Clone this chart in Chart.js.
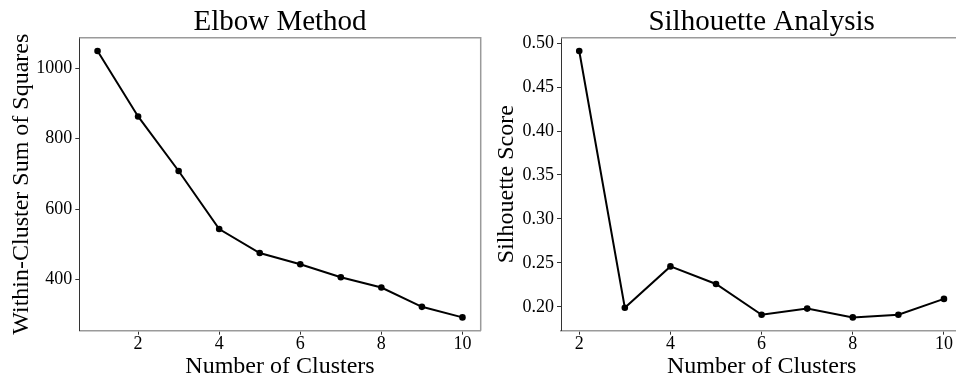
<!DOCTYPE html>
<html><head><meta charset="utf-8">
<script src="https://cdn.jsdelivr.net/npm/chart.js@4"></script>
<style>
html,body{margin:0;padding:0;background:#fff;overflow:hidden;width:956px;height:381px;}
canvas{position:absolute;top:0;}
#c1{left:0}
#c2{left:490px}
</style></head><body>
<canvas id="c1" width="490" height="381"></canvas>
<canvas id="c2" width="490" height="381"></canvas>
<script>
const elbowClusters = [1, 2, 3, 4, 5, 6, 7, 8, 9, 10];
const elbowWCSS = [1049, 863, 708, 543, 475, 443, 406, 377, 322, 292];
const silClusters = [2, 3, 4, 5, 6, 7, 8, 9, 10];
const silScores = [0.491, 0.199, 0.246, 0.226, 0.191, 0.198, 0.188, 0.191, 0.209];
const elbowXTicks = [2, 4, 6, 8, 10];
const elbowYTicks = [400, 600, 800, 1000];
const silXTicks = [2, 4, 6, 8, 10];
const silYTicks = [0.20, 0.25, 0.30, 0.35, 0.40, 0.45, 0.50];

const FONT = "'Liberation Serif', 'DejaVu Serif', serif";

function padRange(arr) {
  const mn = Math.min(...arr), mx = Math.max(...arr);
  const m = (mx - mn) * 0.05;
  return [mn - m, mx + m];
}

// top and right spines
const framePlugin = {
  id: 'frame',
  afterDraw(chart) {
    const a = chart.chartArea, ctx = chart.ctx;
    ctx.save();
    ctx.strokeStyle = '#9a9a9a';
    ctx.lineWidth = 1.5;
    ctx.beginPath();
    ctx.moveTo(a.left, a.top);
    ctx.lineTo(a.right, a.top);
    ctx.lineTo(a.right, a.bottom);
    ctx.stroke();
    ctx.restore();
  }
};

function makeChart(id, xs, ys, xTicks, yTicks, title, xTitle, yTitle, cfg) {
  const xr = padRange(xs), yr = padRange(ys);
  return new Chart(document.getElementById(id), {
    type: 'line',
    data: {
      datasets: [{
        data: xs.map((x, i) => ({x: x, y: ys[i]})),
        borderColor: '#000',
        backgroundColor: '#000',
        borderWidth: 2,
        pointRadius: 3.3,
        pointBorderWidth: 0,
        pointBackgroundColor: '#000',
        tension: 0,
        clip: false
      }]
    },
    plugins: [framePlugin],
    options: {
      responsive: false,
      maintainAspectRatio: false,
      animation: false,
      devicePixelRatio: 1,
      layout: {padding: {left: 0, right: cfg.padRight, top: 0, bottom: 0}},
      plugins: {
        legend: {display: false},
        tooltip: {enabled: false},
        title: {
          display: true, text: title, fullSize: false, color: '#000',
          font: {family: FONT, size: 29, weight: 'normal', lineHeight: 1},
          padding: {top: 8, bottom: 37.7 - 29 - 8}
        }
      },
      scales: {
        x: {
          type: 'linear', min: xr[0], max: xr[1],
          afterBuildTicks: s => { s.ticks = xTicks.map(v => ({value: v})); },
          afterFit: s => { s.height = 381 - 330.7; },
          grid: {display: true, drawOnChartArea: false, drawTicks: true, tickLength: 4, tickColor: '#333', lineWidth: 1},
          border: {display: true, color: '#9a9a9a', width: 1.5},
          ticks: {color: '#000', padding: 1, maxRotation: 0, font: {family: FONT, size: 18, lineHeight: 1},
                  callback: v => String(v)},
          title: {display: true, text: xTitle, color: '#000',
                  font: {family: FONT, size: 24, lineHeight: 1}, padding: {top: 0, bottom: 2.5}}
        },
        y: {
          type: 'linear', min: yr[0], max: yr[1],
          afterBuildTicks: s => { s.ticks = yTicks.map(v => ({value: v})); },
          afterFit: s => { s.width = cfg.yWidth; },
          grid: {display: true, drawOnChartArea: false, drawTicks: true, tickLength: 4, tickColor: '#333', lineWidth: 1},
          border: {display: true, color: '#333', width: 1},
          ticks: {color: '#000', padding: 3, font: {family: FONT, size: 18, lineHeight: 1},
                  callback: cfg.yFmt},
          title: {display: true, text: yTitle, color: '#000',
                  font: {family: FONT, size: 24, lineHeight: 1}, padding: {top: cfg.yTitlePad, bottom: 0}}
        }
      }
    }
  });
}

makeChart('c1', elbowClusters, elbowWCSS, elbowXTicks, elbowYTicks,
  'Elbow Method', 'Number of Clusters', 'Within-Cluster Sum of Squares',
  {padRight: 490 - 480.7, yWidth: 79.3, yTitlePad: 9.5, yFmt: v => String(v)});

// Right panel: plot area runs past the window's right edge (to x = 962), as in the reference
makeChart('c2', silClusters, silScores, silXTicks, silYTicks,
  'Silhouette Analysis', 'Number of Clusters', 'Silhouette Score',
  {padRight: 490 - (962.2 - 490), yWidth: 561 - 490, yTitlePad: 5, yFmt: v => Number(v).toFixed(2)});
</script>
</body></html>
